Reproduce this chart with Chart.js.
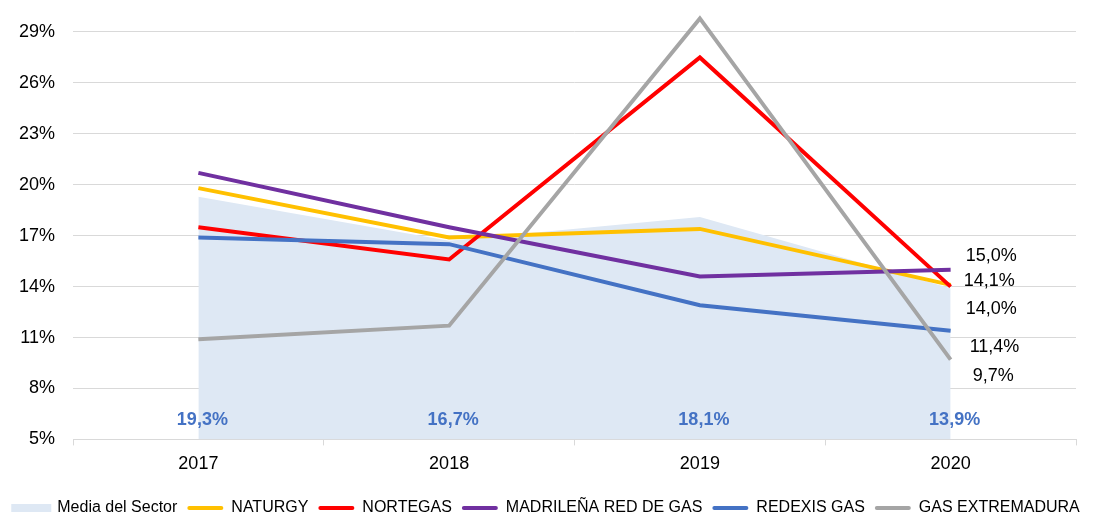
<!DOCTYPE html>
<html>
<head>
<meta charset="utf-8">
<script src="https://cdn.jsdelivr.net/npm/chart.js@4/dist/chart.umd.min.js"></script>
<style>
  body { margin: 0; background: #fff; }
  #wrap { width: 1093px; height: 513px; }
</style>
</head>
<body>
<div id="wrap"><canvas id="chart"></canvas></div>
<script>
const years = ['2017', '2018', '2019', '2020'];
const media = [19.3, 16.7, 18.1, 13.9];
const naturgy = [19.8, 16.9, 17.4, 14.1];
const nortegas = [17.5, 15.6, 27.5, 14.0];
const madrilena = [20.7, 17.5, 14.6, 15.0];
const redexis = [16.9, 16.5, 12.9, 11.4];
const extremadura = [10.9, 11.7, 29.8, 9.7];
const yTicks = [5, 8, 11, 14, 17, 20, 23, 26, 29];

const FONT = 'Liberation Sans, Arial, sans-serif';

// where the end-of-line labels sit, relative to the last point
const endLabelOffset = {
    'NATURGY': [13, -4],
    'NORTEGAS': [15, 22],
    'MADRILEÑA RED DE GAS': [15, -14],
    'REDEXIS GAS': [19, 16],
    'GAS EXTREMADURA': [22, 16]
};

function fmt(v) {
    return v.toFixed(1).replace('.', ',') + '%';
}

function lineSet(label, data, color, order) {
    return {
        label: label,
        data: data,
        borderColor: color,
        backgroundColor: color,
        borderWidth: 4,
        pointRadius: 0,
        fill: false,
        tension: 0,
        order: order
    };
}

const labelsPlugin = {
    id: 'valueLabels',
    afterDatasetsDraw(chart) {
        const ctx = chart.ctx;
        const x = chart.scales.x;
        const y = chart.scales.y;
        ctx.save();
        ctx.textBaseline = 'middle';

        // sector average, bold blue near the bottom
        ctx.font = 'bold 18px ' + FONT;
        ctx.fillStyle = '#4472c4';
        ctx.textAlign = 'center';
        media.forEach((v, i) => {
            ctx.fillText(fmt(v), x.getPixelForValue(i) + 4, y.getPixelForValue(5) - 19);
        });

        // last value of every company
        ctx.font = '18px ' + FONT;
        ctx.fillStyle = '#000';
        ctx.textAlign = 'left';
        chart.data.datasets.forEach(ds => {
            const off = endLabelOffset[ds.label];
            if (!off) return;
            const last = ds.data.length - 1;
            ctx.fillText(fmt(ds.data[last]),
                x.getPixelForValue(last) + off[0],
                y.getPixelForValue(ds.data[last]) + off[1]);
        });
        ctx.restore();
    }
};

function main() {
    const canvas = document.querySelector('#chart');

    new Chart(canvas.getContext('2d'), {
        type: 'line',
        data: {
            labels: years,
            datasets: [
                {
                    label: 'Media del Sector',
                    data: media,
                    borderWidth: 0,
                    borderColor: '#dee8f4',
                    backgroundColor: '#dee8f4',
                    pointRadius: 0,
                    fill: 'start',
                    tension: 0,
                    order: 6
                },
                lineSet('NATURGY', naturgy, '#ffc000', 5),
                lineSet('NORTEGAS', nortegas, '#ff0000', 4),
                lineSet('MADRILEÑA RED DE GAS', madrilena, '#7030a0', 3),
                lineSet('REDEXIS GAS', redexis, '#4472c4', 2),
                lineSet('GAS EXTREMADURA', extremadura, '#a5a5a5', 1)
            ]
        },
        options: {
            responsive: true,
            maintainAspectRatio: false,
            animation: false,
            layout: { padding: { left: 0, right: 0, top: 15, bottom: -13 } },
            scales: {
                x: {
                    offset: true,
                    border: { color: '#d9d9d9', width: 1 },
                    grid: { drawOnChartArea: false, offset: true, tickLength: 6, color: '#d9d9d9' },
                    ticks: { color: '#000', font: { family: FONT, size: 18 }, padding: 8 },
                    afterFit: axis => { axis.height += 7; }
                },
                y: {
                    min: 5,
                    max: 30,
                    border: { display: false },
                    grid: { color: '#d9d9d9', drawTicks: false },
                    afterBuildTicks: axis => { axis.ticks = yTicks.map(v => ({ value: v })); },
                    afterFit: axis => {
                        axis.width = 73;
                        axis.paddingTop = 0;
                        axis.paddingBottom = 0;
                    },
                    ticks: {
                        color: '#000',
                        padding: 18,
                        font: { family: FONT, size: 18 },
                        callback: v => v + '%'
                    }
                },
                yRight: {
                    position: 'right',
                    display: true,
                    border: { display: false },
                    grid: { display: false },
                    ticks: { display: false },
                    afterFit: axis => { axis.width = 17; }
                }
            },
            plugins: {
                tooltip: { enabled: false },
                legend: {
                    position: 'bottom',
                    labels: {
                        boxWidth: 36,
                        boxHeight: 4,
                        padding: 10,
                        color: '#000',
                        font: { family: FONT, size: 16 },
                        generateLabels: chart => chart.data.datasets.map((ds, i) => ({
                            text: ds.label,
                            fillStyle: ds.backgroundColor,
                            strokeStyle: ds.backgroundColor,
                            lineWidth: i === 0 ? 4 : 0,
                            borderRadius: i === 0 ? 0 : 2,
                            datasetIndex: i
                        }))
                    }
                }
            }
        },
        plugins: [labelsPlugin]
    });
}

main();
</script>
</body>
</html>
